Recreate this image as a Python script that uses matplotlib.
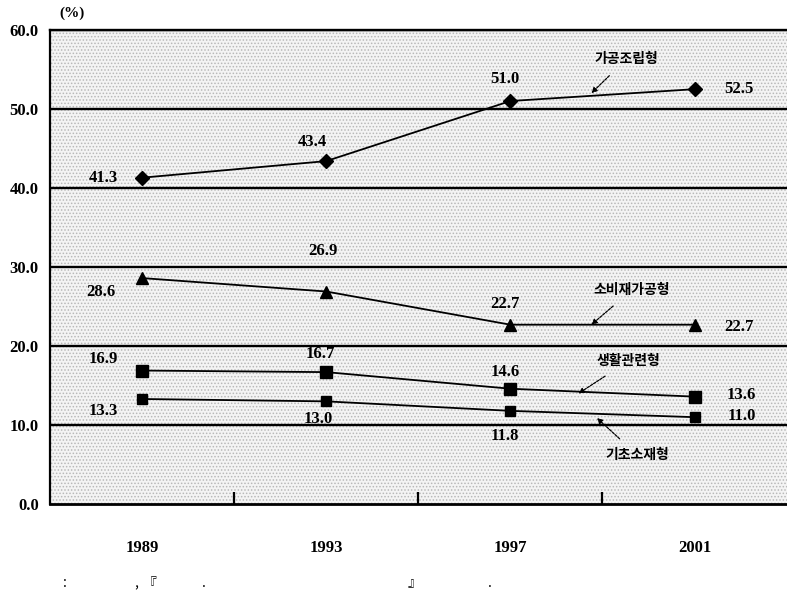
import matplotlib
matplotlib.use('Agg')
import matplotlib.pyplot as plt
from matplotlib.patches import Rectangle

plt.rcParams['font.family'] = ['Liberation Serif', 'Noto Sans CJK KR', 'DejaVu Sans']
plt.rcParams['hatch.linewidth'] = 0.7

years = ['1989', '1993', '1997', '2001']
series_names = ['가공조립형', '소비재가공형', '생활관련형', '기초소재형']
assembly = [41.3, 43.4, 51.0, 52.5]
consumer = [28.6, 26.9, 22.7, 22.7]
living = [16.9, 16.7, 14.6, 13.6]
basic = [13.3, 13.0, 11.8, 11.0]
yticks = [0, 10, 20, 30, 40, 50, 60]

all_series = [assembly, consumer, living, basic]
markers = ['D', '^', 's', 's']
msizes = [7, 8, 8, 7]

# label offsets (points) for each value, per series
offsets = [
    [(-28, 0), (-10, 14), (-4, 16), (32, 0)],
    [(-30, -10), (-2, 29), (-4, 15), (32, -2)],
    [(-28, 8), (-4, 13), (-4, 12), (34, 1)],
    [(-28, -9), (-6, -13), (-4, -18), (34, 1)],
]
# series name annotations: text pos (data), arrow tip (data)
name_text = [(2.63, 56.3), (2.66, 27.1), (2.64, 18.1), (2.69, 6.2)]
name_tip = [(2.44, 52.0), (2.44, 22.7), (2.37, 14.0), (2.47, 10.9)]

fig = plt.figure(figsize=(7.87, 5.98), dpi=100)
ax = fig.add_axes([0.0635, 0.157, 0.936, 0.793])
ax.set_xlim(-0.5, 3.5)
ax.set_ylim(0, 60)

bg = Rectangle((0, 0), 1, 1, transform=ax.transAxes, facecolor='#f4f4f4',
               edgecolor='#b8b8b8', hatch='.....', linewidth=0, zorder=0)
ax.add_patch(bg)

for v in yticks[1:]:
    ax.axhline(v, color='black', linewidth=1.7, zorder=1)

x = list(range(len(years)))
for vals, m, ms, offs in zip(all_series, markers, msizes, offsets):
    ax.plot(x, vals, color='black', linewidth=1.3, marker=m, markersize=ms, zorder=3)
    for xi, v, (dx, dy) in zip(x, vals, offs):
        ax.annotate(f'{v:.1f}', (xi, v), xytext=(dx, dy), textcoords='offset points',
                    ha='center', va='center', fontsize=12, fontweight='bold', zorder=4)

for name, tp, tip in zip(series_names, name_text, name_tip):
    ax.annotate(name, xy=tip, xytext=tp, fontsize=10, fontweight='bold',
                family=['Noto Sans CJK KR'], ha='center', va='center',
                arrowprops=dict(arrowstyle='-|>', color='black', lw=0.9,
                                linestyle=(0, (2, 1)), mutation_scale=8,
                                shrinkA=7, shrinkB=0), zorder=4)

ax.spines['right'].set_visible(False)
ax.spines['top'].set_linewidth(1.7)
ax.spines['left'].set_linewidth(1.6)
ax.spines['bottom'].set_linewidth(2.0)

ax.set_yticks(yticks)
ax.set_yticklabels([f'{v:.1f}' for v in yticks], fontsize=12, fontweight='bold')
ax.tick_params(axis='y', length=0, pad=8)

ax.set_xticks([0.5, 1.5, 2.5])
ax.set_xticklabels([])
ax.tick_params(axis='x', which='major', direction='in', length=9, width=1.6)
ax.set_xticks(x, minor=True)
ax.set_xticklabels(years, minor=True, fontsize=12, fontweight='bold')
ax.tick_params(axis='x', which='minor', length=0, pad=26)

fig.text(0.092, 0.978, '(%)', fontsize=11, fontweight='bold', ha='center', va='center')

footer = [(':', 65), (',', 136), ('『', 150), ('.', 204), ('』', 414), ('.', 490)]
for ch, px in footer:
    fig.text(px / 787, 1 - 583 / 598, ch, fontsize=10, ha='center', va='center',
             family=['Noto Sans CJK KR'])

fig.savefig('out.png', dpi=100)
